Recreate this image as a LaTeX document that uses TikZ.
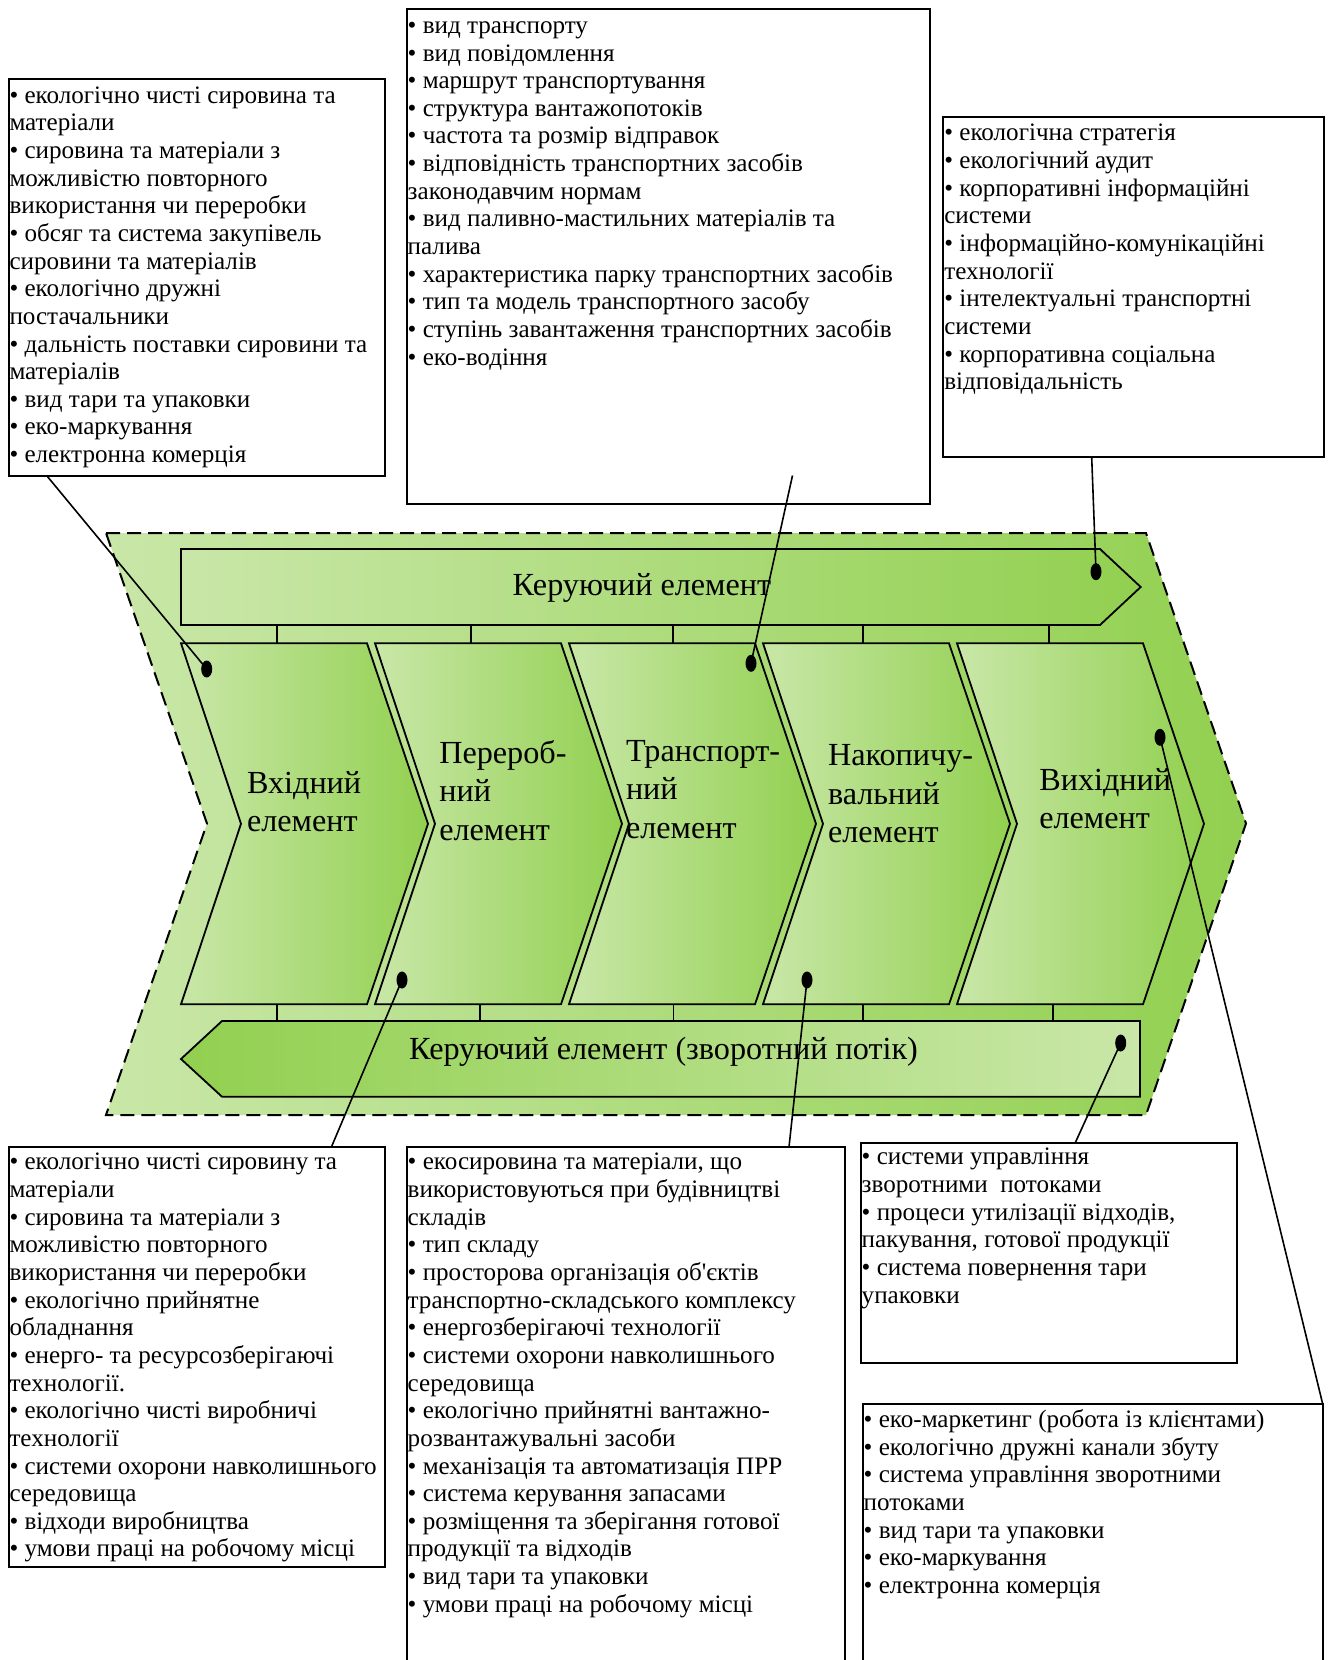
\documentclass[tikz,border=0pt]{standalone}
\usepackage{fontspec}
\setmainfont{Liberation Serif}[Ligatures=TeXOff]
\usetikzlibrary{shapes.geometric,calc}
\definecolor{lg}{HTML}{C9E7A8}
\definecolor{dg}{HTML}{92D050}
\begin{document}
\begin{tikzpicture}[x=1pt,y=-1pt,
  outl/.style={draw=black, line width=1.8pt, line join=miter},
  tickln/.style={draw=black, line width=1.8pt},
  infobox/.style={draw=black, line width=2pt, rectangle, inner sep=0pt, outer sep=0pt, anchor=north west},
  txt/.style={anchor=north west, inner sep=0pt, outer sep=0pt, align=left, font=\fontsize{25.1}{27.65}\selectfont},
  lab/.style={anchor=north west, inner sep=0pt, outer sep=0pt, align=left, font=\fontsize{32.2}{38.5}\selectfont},
  barlab/.style={anchor=base west, inner sep=0pt, outer sep=0pt, font=\fontsize{32.2}{38.5}\selectfont},
  dotn/.style={ellipse, fill=black, minimum width=11pt, minimum height=17pt, inner sep=0pt},
  conn/.style={draw=black, line width=1.6pt},
]
\path[use as bounding box] (0,0) rectangle (1330,1660);
\fill[white] (0,0) rectangle (1330,1660);

% outer dashed chevron
\path[draw=black, line width=2pt, dash pattern=on 14pt off 7pt, left color=lg, right color=dg]
  (106,533) -- (1146,533) -- (1246,823.5) -- (1146,1115) -- (106,1115) -- (207,823.5) -- cycle;

% top control bar
\path[outl, left color=lg, right color=dg]
  (181,549) -- (1100,549) -- (1140.7,587) -- (1100,625) -- (181,625) -- cycle;
% bottom control bar (reverse flow)
\path[outl, left color=dg, right color=lg]
  (181,1059) -- (222,1021) -- (1140,1021) -- (1140,1096.7) -- (222,1096.7) -- cycle;

% chevrons
\foreach \L in {181,375,569,763,957}{
  \path[outl, left color=lg, right color=dg]
    (\L,643.3) -- (\L+186,643.3) -- (\L+247,823.8) -- (\L+186,1004.3) -- (\L,1004.3) -- (\L+60,823.8) -- cycle;
}
% ticks
\foreach \x in {277.3,470.7,672.7,863.3,1049}{ \draw[tickln] (\x,625) -- (\x,643.3); }
\foreach \x in {277,480,673.5,863,1053.3}{ \draw[tickln] (\x,1004.3) -- (\x,1021); }

% labels
\node[barlab] (topbar) at (512.7,595) {Керуючий елемент};
\node[barlab] (botbar) at (409,1059.5) {Керуючий елемент (зворотний потік)};
\node[lab] (c1) at (247,766.5) {\strut Вхідний\\елемент};
\node[lab] (c2) at (439.3,736.3) {\strut Перероб-\\ний\\елемент};
\node[lab] (c3) at (626,734.3) {\strut Транспорт-\\ний\\елемент};
\node[lab] (c4) at (828,738.8) {\strut Накопичу-\\вальний\\елемент};
\node[lab] (c5) at (1039.3,763.3) {\strut Вихідний\\елемент};

% boxes
\node[infobox, minimum width=376pt, minimum height=396.5pt] (bA) at (8.5,79) {};
\node[infobox, minimum width=522.8pt, minimum height=495pt] (bB) at (406.7,9) {};
\node[infobox, minimum width=380.7pt, minimum height=340pt] (bC) at (943.3,117.3) {};
\node[infobox, minimum width=376pt, minimum height=420.3pt] (bD) at (8.5,1147) {};
\node[infobox, minimum width=438.3pt, minimum height=530pt] (bE) at (406.7,1147) {};
\node[infobox, minimum width=376pt, minimum height=220pt] (bF) at (860.7,1143.3) {};
\node[infobox, minimum width=460pt, minimum height=300pt] (bG) at (862.7,1404) {};

\node[txt] (tA) at (9.5,83.8) {\strut • екологічно чисті сировина та\\матеріали\\• сировина та матеріали з\\можливістю повторного\\використання чи переробки\\• обсяг та система закупівель\\сировини та матеріалів\\• екологічно дружні\\постачальники\\• дальність поставки сировини та\\матеріалів\\• вид тари та упаковки\\• еко-маркування\\• електронна комерція};
\node[txt] (tB) at (407.7,14) {\strut • вид транспорту\\• вид повідомлення\\• маршрут транспортування\\• структура вантажопотоків\\• частота та розмір відправок\\• відповідність транспортних засобів\\законодавчим нормам\\• вид паливно-мастильних матеріалів та\\палива\\• характеристика парку транспортних засобів\\• тип та модель транспортного засобу\\• ступінь завантаження транспортних засобів\\• еко-водіння};
\node[txt] (tC) at (944.3,121.6) {\strut • екологічна стратегія\\• екологічний аудит\\• корпоративні інформаційні\\системи\\• інформаційно-комунікаційні\\технології\\• інтелектуальні транспортні\\системи\\• корпоративна соціальна\\відповідальність};
\node[txt] (tD) at (9.5,1150.5) {\strut • екологічно чисті сировину та\\матеріали\\• сировина та матеріали з\\можливістю повторного\\використання чи переробки\\• екологічно прийнятне\\обладнання\\• енерго- та ресурсозберігаючі\\технології.\\• екологічно чисті виробничі\\технології\\• системи охорони навколишнього\\середовища\\• відходи виробництва\\• умови праці на робочому місці};
\node[txt] (tE) at (407.7,1150.5) {\strut • екосировина та матеріали, що\\використовуються при будівництві\\складів\\• тип складу\\• просторова організація об'єктів\\транспортно-складського комплексу\\• енергозберігаючі технології\\• системи охорони навколишнього\\середовища\\• екологічно прийнятні вантажно-\\розвантажувальні засоби\\• механізація та автоматизація ПРР\\• система керування запасами\\• розміщення та зберігання готової\\продукції та відходів\\• вид тари та упаковки\\• умови праці на робочому місці};
\node[txt] (tF) at (861.7,1145.6) {\strut • системи управління\\зворотними~ потоками\\• процеси утилізації відходів,\\пакування, готової продукції\\• система повернення тари\\упаковки};
\node[txt] (tG) at (863.7,1408.3) {\strut • еко-маркетинг (робота із клієнтами)\\• екологічно дружні канали збуту\\• система управління зворотними\\потоками\\• вид тари та упаковки\\• еко-маркування\\• електронна комерція};

% connector ends
\coordinate (eA) at (46.6,475.5);
\coordinate (eB) at (792.5,475.5);
\coordinate (eC) at (1091.7,457.3);
\coordinate (eD) at (331.4,1147);
\coordinate (eE) at (789,1147);
\coordinate (eF) at (1075,1143.3);
\coordinate (eG) at (1322.7,1404);

% dots
\node[dotn] (dA) at (206.7,669) {};
\node[dotn] (dB) at (751,663.3) {};
\node[dotn] (dC) at (1096,571.7) {};
\node[dotn] (dD) at (402,980) {};
\node[dotn] (dE) at (807,980) {};
\node[dotn] (dF) at (1120.7,1043) {};
\node[dotn] (dG) at (1160,737.3) {};

\draw[conn] (dA.center) -- (eA);
\draw[conn] (dB.center) -- (eB);
\draw[conn] (dC.center) -- (eC);
\draw[conn] (dD.center) -- (eD);
\draw[conn] (dE.center) -- (eE);
\draw[conn] (dF.center) -- (eF);
\draw[conn] (dG.center) -- (eG);
\end{tikzpicture}
\end{document}
